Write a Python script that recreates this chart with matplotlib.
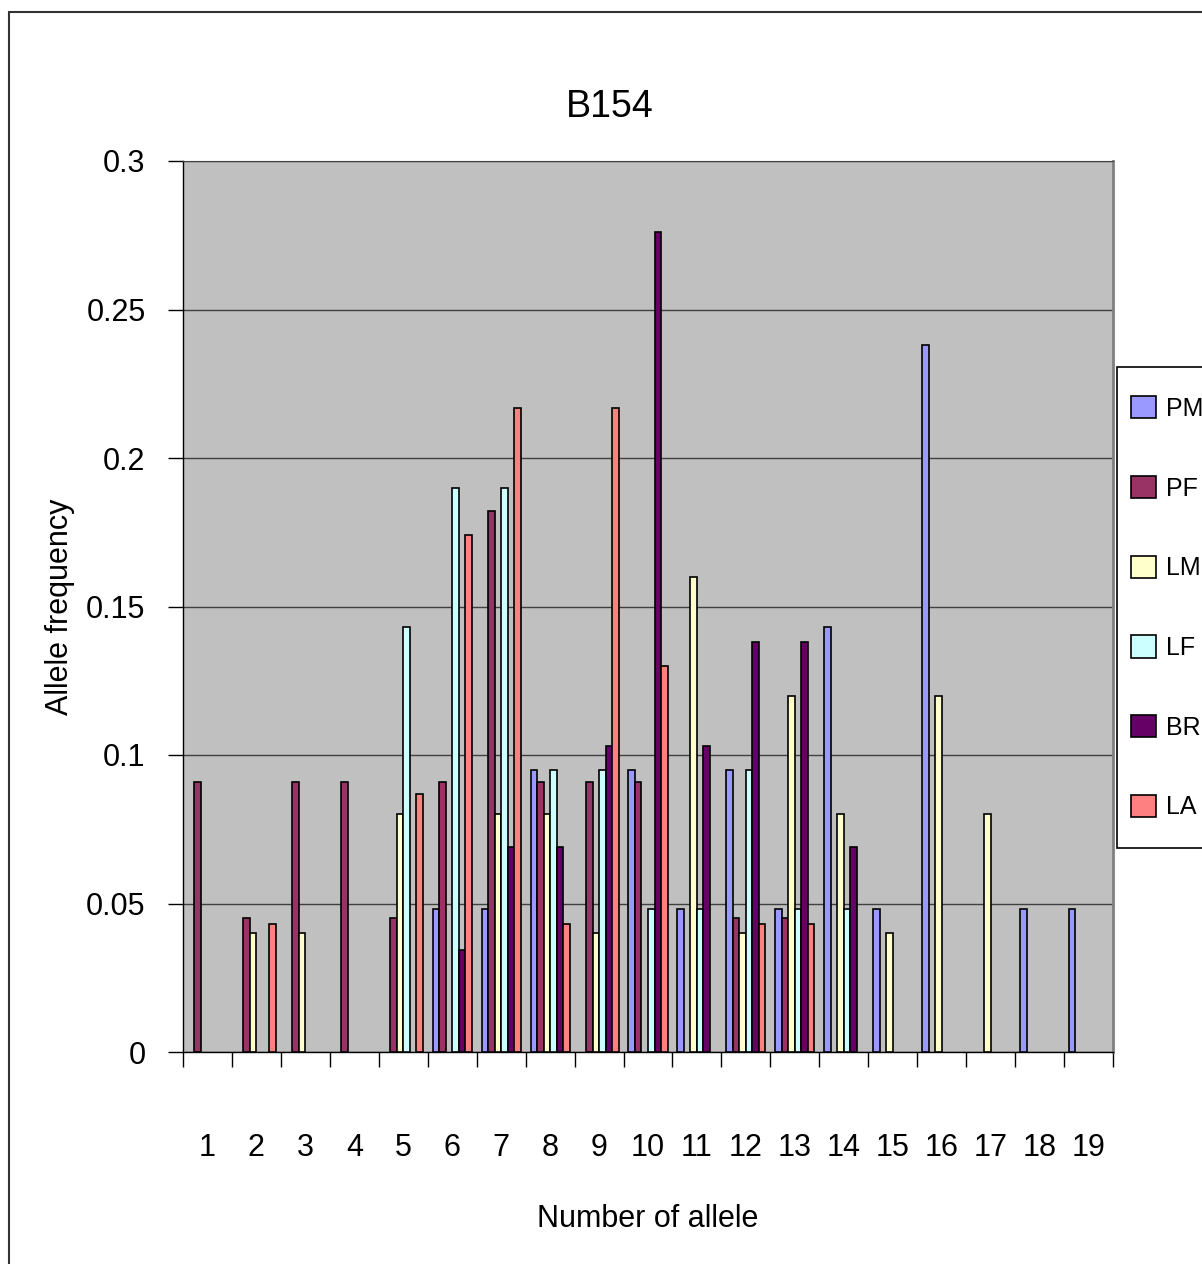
import numpy as np
import matplotlib.pyplot as plt
from matplotlib.patches import Patch, Rectangle

plt.rcParams['font.family'] = ['Liberation Sans', 'DejaVu Sans']

alleles = [str(i) for i in range(1, 20)]
series = ['PM', 'PF', 'LM', 'LF', 'BR', 'LA']
colors = ['#9999FF', '#993366', '#FFFFCC', '#CCFFFF', '#660066', '#FF8080']

# allele frequencies per population, alleles 1..19
pm = [0, 0, 0, 0, 0, 0.048, 0.048, 0.095, 0, 0.095, 0.048, 0.095, 0.048, 0.143, 0.048, 0.238, 0, 0.048, 0.048]
pf = [0.091, 0.045, 0.091, 0.091, 0.045, 0.091, 0.182, 0.091, 0.091, 0.091, 0, 0.045, 0.045, 0, 0, 0, 0, 0, 0]
lm = [0, 0.04, 0.04, 0, 0.08, 0, 0.08, 0.08, 0.04, 0, 0.16, 0.04, 0.12, 0.08, 0.04, 0.12, 0.08, 0, 0]
lf = [0, 0, 0, 0, 0.143, 0.190, 0.190, 0.095, 0.095, 0.048, 0.048, 0.095, 0.048, 0.048, 0, 0, 0, 0, 0]
br = [0, 0, 0, 0, 0, 0.0345, 0.069, 0.069, 0.103, 0.276, 0.103, 0.138, 0.138, 0.069, 0, 0, 0, 0, 0]
la = [0, 0.043, 0, 0, 0.087, 0.174, 0.217, 0.043, 0.217, 0.130, 0, 0.043, 0.043, 0, 0, 0, 0, 0, 0]
freqs = [pm, pf, lm, lf, br, la]

W, H = 1202, 1264
fig = plt.figure(figsize=(W / 100, H / 100), dpi=100)
ax = fig.add_axes([183 / W, 1 - 1052 / H, 930 / W, 891 / H])
ax.set_facecolor('#C0C0C0')

x = np.arange(len(alleles))
w = 1 / 7.5
for j, (name, col, vals) in enumerate(zip(series, colors, freqs)):
    vals = np.array(vals)
    keep = vals > 0
    ax.bar(x[keep] - 0.4 + (j + 0.5) * w, vals[keep], width=w, color=col,
           edgecolor='black', linewidth=1.2, zorder=3)

ax.set_xlim(-0.5, len(alleles) - 0.5)
ax.set_ylim(0, 0.3)
ax.set_yticks(np.arange(0, 0.31, 0.05))
ax.set_yticklabels(['0', '0.05', '0.1', '0.15', '0.2', '0.25', '0.3'])
ax.yaxis.grid(True, color='#404040', linewidth=1.0, zorder=1)
ax.tick_params(axis='y', direction='out', length=11, width=1, pad=16, labelsize=22)

# boundaries get tick marks, category centres get the labels
ax.set_xticks(np.arange(-0.5, len(alleles), 1.0))
ax.set_xticklabels([])
ax.set_xticks(x, minor=True)
ax.set_xticklabels(alleles, minor=True)
ax.tick_params(axis='x', which='major', direction='out', length=11, width=1)
ax.tick_params(axis='x', which='minor', length=0, pad=58, labelsize=22)

for s in ['left', 'bottom']:
    ax.spines[s].set_color('black')
    ax.spines[s].set_linewidth(1)
ax.spines['top'].set_color('#404040')
ax.spines['right'].set_color('#808080')
ax.spines['right'].set_linewidth(2)

fig.text(610 / W, 1 - 107 / H, 'B154', fontsize=27, ha='center', va='center')
ax.set_xlabel('Number of allele', fontsize=22, labelpad=30)
ax.set_ylabel('Allele frequency', fontsize=22, labelpad=8)

# chart border
fig.patches.append(Rectangle((9 / W, -0.1), 1.2, 1 - 12 / H + 0.1, transform=fig.transFigure,
                             fill=False, edgecolor='#333333', linewidth=1.5))

# legend box
fig.patches.append(Rectangle((1117 / W, 1 - 848 / H), 0.2, (848 - 367) / H, transform=fig.transFigure,
                             facecolor='white', edgecolor='black', linewidth=1.2))
handles = [Patch(facecolor=c, edgecolor='black', linewidth=1.2) for c in colors]
fig.legend(handles, series, loc='upper left', bbox_to_anchor=(1131 / W, 1 - 396 / H),
           frameon=False, fontsize=18, handlelength=1.0, handleheight=1.0,
           labelspacing=2.2, handletextpad=0.4, borderpad=0, borderaxespad=0)

fig.savefig('out.png', dpi=100)
